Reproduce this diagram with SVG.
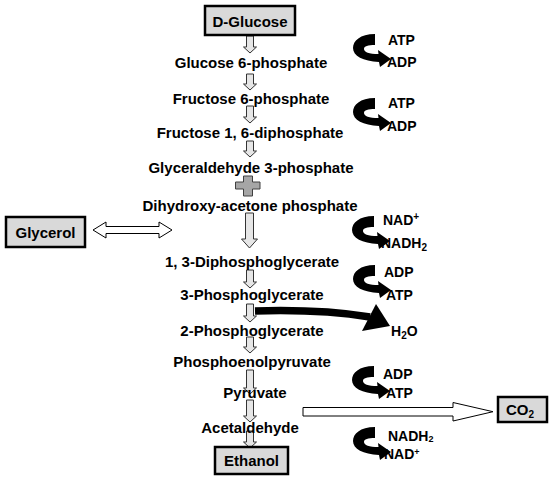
<svg xmlns="http://www.w3.org/2000/svg" width="550" height="482" viewBox="0 0 550 482">
<defs>
<style>
text{font-family:"Liberation Sans",Arial,sans-serif;font-weight:bold;fill:#000}
.m{font-size:15px;text-anchor:middle}
.s{font-size:14px}
.box{fill:#d9d9d9;stroke:#000;stroke-width:2.5}
.blk{fill:#e6e6e6;stroke:#333;stroke-width:1}
.hol{fill:#fff;stroke:#000;stroke-width:1}
</style>
<path id="cv" d="M22,0 C7,0 0,7 0,14 C0,22 10,27 26,28 L27,33 L38,25 L25,16 L25.5,20 C16,20 11,18 11,15 C11,12 15,11 22,11 Z" fill="#000"/>
</defs>
<rect width="550" height="482" fill="#fff"/>
<g id="connectors">
<path class="blk" d="M246.5,36 H253.5 V47 H256.5 L250,53 L243.5,47 H246.5 Z"/>
<path class="blk" d="M246.5,74 H253.5 V84 H256.5 L250,90 L243.5,84 H246.5 Z"/>
<path class="blk" d="M246.5,106 H253.5 V117 H256.5 L250,123 L243.5,117 H246.5 Z"/>
<path class="blk" d="M246.5,141 H253.5 V151 H256.5 L250,157 L243.5,151 H246.5 Z"/>
<path d="M243.5,176 H252.5 V182 H260 V189 H252.5 V196 H243.5 V189 H235.5 V182 H243.5 Z" fill="#a6a6a6" stroke="#404040" stroke-width="1"/>
<path class="blk" d="M245.5,213 H253.5 V239 H257.5 L249.5,248 L241.5,239 H245.5 Z" fill="#d6d6d6"/>
<path class="blk" d="M246.5,270 H253.5 V282 H256.5 L250,288 L243.5,282 H246.5 Z"/>
<path class="blk" d="M246.5,304 H253.5 V316 H256.5 L250,322 L243.5,316 H246.5 Z"/>
<path class="blk" d="M246.5,337 H253.5 V347 H256.5 L250,353 L243.5,347 H246.5 Z"/>
<path class="blk" d="M246.5,370 H253.5 V388 H256.5 L250,394 L243.5,388 H246.5 Z"/>
<path class="blk" d="M246.5,400 H253.5 V416 H256.5 L250,422 L243.5,416 H246.5 Z"/>
<path class="blk" d="M246.5,431 H253.5 V442 H256.5 L250,448 L243.5,442 H246.5 Z"/>
<path class="hol" d="M93,230 L106,222 V226.5 H159 V222 L172,230 L159,238 V233.5 H106 V238 Z"/>
<path class="hol" d="M303,407.5 H453 V402.5 L493,411.7 L453,421 V416 H303 Z"/>
<path d="M255,311 Q320,309 370,317" fill="none" stroke="#000" stroke-width="7.5"/>
<path d="M376,304 L390,326 L362,331 Z" fill="#000"/>
<use href="#cv" x="353" y="34"/>
<use href="#cv" x="353" y="98"/>
<use href="#cv" x="352" y="216"/>
<use href="#cv" x="353" y="265"/>
<use href="#cv" x="352" y="366"/>
<use href="#cv" x="353" y="427"/>
</g>
<g id="n-glucose"><rect class="box" x="205" y="6" width="90" height="29"/><text class="m" x="250" y="26.5">D-Glucose</text></g>
<g id="n-g6p"><text class="m" x="251" y="68">Glucose 6-phosphate</text></g>
<g id="n-f6p"><text class="m" x="251" y="104">Fructose 6-phosphate</text></g>
<g id="n-f16dp"><text class="m" x="250" y="138">Fructose 1, 6-diphosphate</text></g>
<g id="n-ga3p"><text class="m" x="251" y="173">Glyceraldehyde 3-phosphate</text></g>
<g id="n-dhap"><text class="m" x="250" y="211">Dihydroxy-acetone phosphate</text></g>
<g id="n-13dpg"><text class="m" x="252" y="267">1, 3-Diphosphoglycerate</text></g>
<g id="n-3pg"><text class="m" x="252" y="300">3-Phosphoglycerate</text></g>
<g id="n-2pg"><text class="m" x="252" y="336">2-Phosphoglycerate</text></g>
<g id="n-pep"><text class="m" x="252" y="367">Phosphoenolpyruvate</text></g>
<g id="n-pyr"><text class="m" x="255" y="398">Pyruvate</text></g>
<g id="n-acet"><text class="m" x="250" y="433">Acetaldehyde</text></g>
<g id="n-ethanol"><rect class="box" x="215" y="447" width="73" height="27"/><text class="m" x="251.5" y="466">Ethanol</text></g>
<g id="n-glycerol"><rect class="box" x="6" y="217" width="79" height="30"/><text class="m" x="45.5" y="237.5">Glycerol</text></g>
<g id="n-co2"><rect class="box" x="498" y="397" width="49" height="25"/><text class="m" x="520" y="415">CO<tspan font-size="10" dy="3">2</tspan></text></g>
<g id="n-h2o"><text class="s" x="391" y="336">H<tspan font-size="10" dy="3">2</tspan><tspan dy="-3">O</tspan></text></g>
<g id="labels">
<text class="s" x="388" y="45">ATP</text>
<text class="s" x="387" y="67">ADP</text>
<text class="s" x="388" y="108">ATP</text>
<text class="s" x="387" y="131">ADP</text>
<text class="s" x="383" y="225">NAD<tspan font-size="10" dy="-5">+</tspan></text>
<text class="s" x="381" y="248">NADH<tspan font-size="10" dy="3">2</tspan></text>
<text class="s" x="384" y="277">ADP</text>
<text class="s" x="386" y="300">ATP</text>
<text class="s" x="383" y="379">ADP</text>
<text class="s" x="386" y="398">ATP</text>
<text class="s" x="388" y="441">NADH<tspan font-size="9" dy="1">2</tspan></text>
<text class="s" x="384" y="459">NAD<tspan font-size="9" dy="-4">+</tspan></text>
</g>
</svg>
